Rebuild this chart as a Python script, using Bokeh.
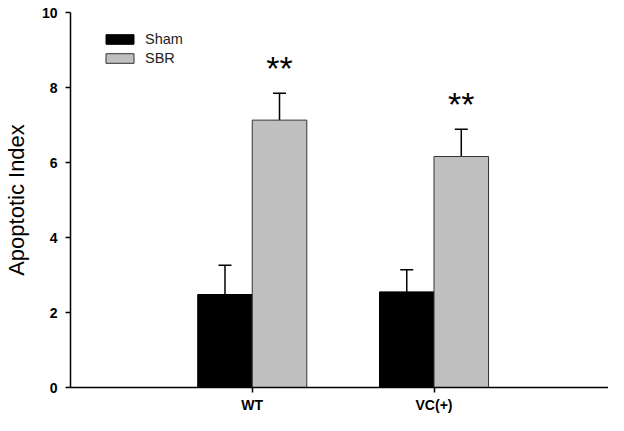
from bokeh.plotting import figure
from bokeh.models import ColumnDataSource, Whisker, TeeHead, FixedTicker, Range1d
from bokeh.embed import file_html
from bokeh.resources import INLINE
from bokeh.core.properties import value

# ---- data ----
groups = ["WT", "VC(+)"]
series = ["Sham", "SBR"]
sham_mean = [2.48, 2.55]
sham_err = [0.78, 0.59]
sbr_mean = [7.13, 6.16]
sbr_err = [0.72, 0.73]
sig_marks = ["**", "**"]
y_ticks = [0, 2, 4, 6, 8, 10]

FONT = "Liberation Sans"
centers = [i + 1 for i in range(len(groups))]
bar_w = 0.3

sham_src = ColumnDataSource(dict(
    x=[c - bar_w / 2 for c in centers],
    top=sham_mean,
    upper=[m + e for m, e in zip(sham_mean, sham_err)],
))
sbr_src = ColumnDataSource(dict(
    x=[c + bar_w / 2 for c in centers],
    top=sbr_mean,
    upper=[m + e for m, e in zip(sbr_mean, sbr_err)],
    mark=sig_marks,
))

p = figure(width=608, height=415, output_backend="svg", toolbar_location=None,
           x_range=Range1d(0, 2.96), y_range=Range1d(0, 10),
           min_border_left=68, min_border_top=12, min_border_right=0, min_border_bottom=20)
p.outline_line_color = None
p.xgrid.grid_line_color = None
p.ygrid.grid_line_color = None
p.background_fill_color = "white"

p.vbar(x="x", top="top", width=bar_w, bottom=0, source=sham_src,
       fill_color="black", line_color="black", line_width=1, legend_label=series[0])
p.vbar(x="x", top="top", width=bar_w, bottom=0, source=sbr_src,
       fill_color="#c0c0c0", line_color="#333333", line_width=1, legend_label=series[1])

for src in (sham_src, sbr_src):
    w = Whisker(base="x", upper="upper", lower="top", source=src,
                upper_head=TeeHead(size=13, line_width=1.5, line_color="black"),
                lower_head=None, line_width=1.5, line_color="black")
    p.add_layout(w)

p.text(x="x", y="upper", text="mark", source=sbr_src, text_align="center",
       text_baseline="alphabetic", y_offset=-25, text_font=value(FONT),
       text_font_size="34px", text_color="black")

# axes
p.yaxis.ticker = FixedTicker(ticks=y_ticks)
p.yaxis.axis_label = "Apoptotic Index"
p.yaxis.axis_label_text_font = FONT
p.yaxis.axis_label_text_font_style = "normal"
p.yaxis.axis_label_text_font_size = "22px"
p.yaxis.axis_label_text_color = "black"
p.yaxis.axis_label_standoff = 10
p.yaxis.major_label_standoff = 8

p.xaxis.ticker = FixedTicker(ticks=centers)
p.xaxis.major_label_overrides = {c: g for c, g in zip(centers, groups)}
p.xaxis.major_label_standoff = 4

for ax in (p.xaxis, p.yaxis):
    ax.axis_line_width = 1.5
    ax.axis_line_color = "black"
    ax.major_tick_line_width = 1.5
    ax.major_tick_line_color = "black"
    ax.major_tick_out = 5
    ax.major_tick_in = 0
    ax.minor_tick_line_color = None
    ax.major_label_text_font = FONT
    ax.major_label_text_font_style = "bold"
    ax.major_label_text_font_size = "14px"
    ax.major_label_text_color = "black"

leg = p.legend[0]
leg.location = (32, 321)
leg.padding = 0
leg.margin = 0
leg.spacing = 3
leg.border_line_color = None
leg.background_fill_alpha = 0
leg.glyph_width = 35
leg.glyph_height = 12
leg.label_standoff = 8
leg.label_height = 12
leg.label_text_font = FONT
leg.label_text_font_size = "14.5px"
leg.label_text_color = "#222222"

open("out.html", "w").write(file_html(p, INLINE))
